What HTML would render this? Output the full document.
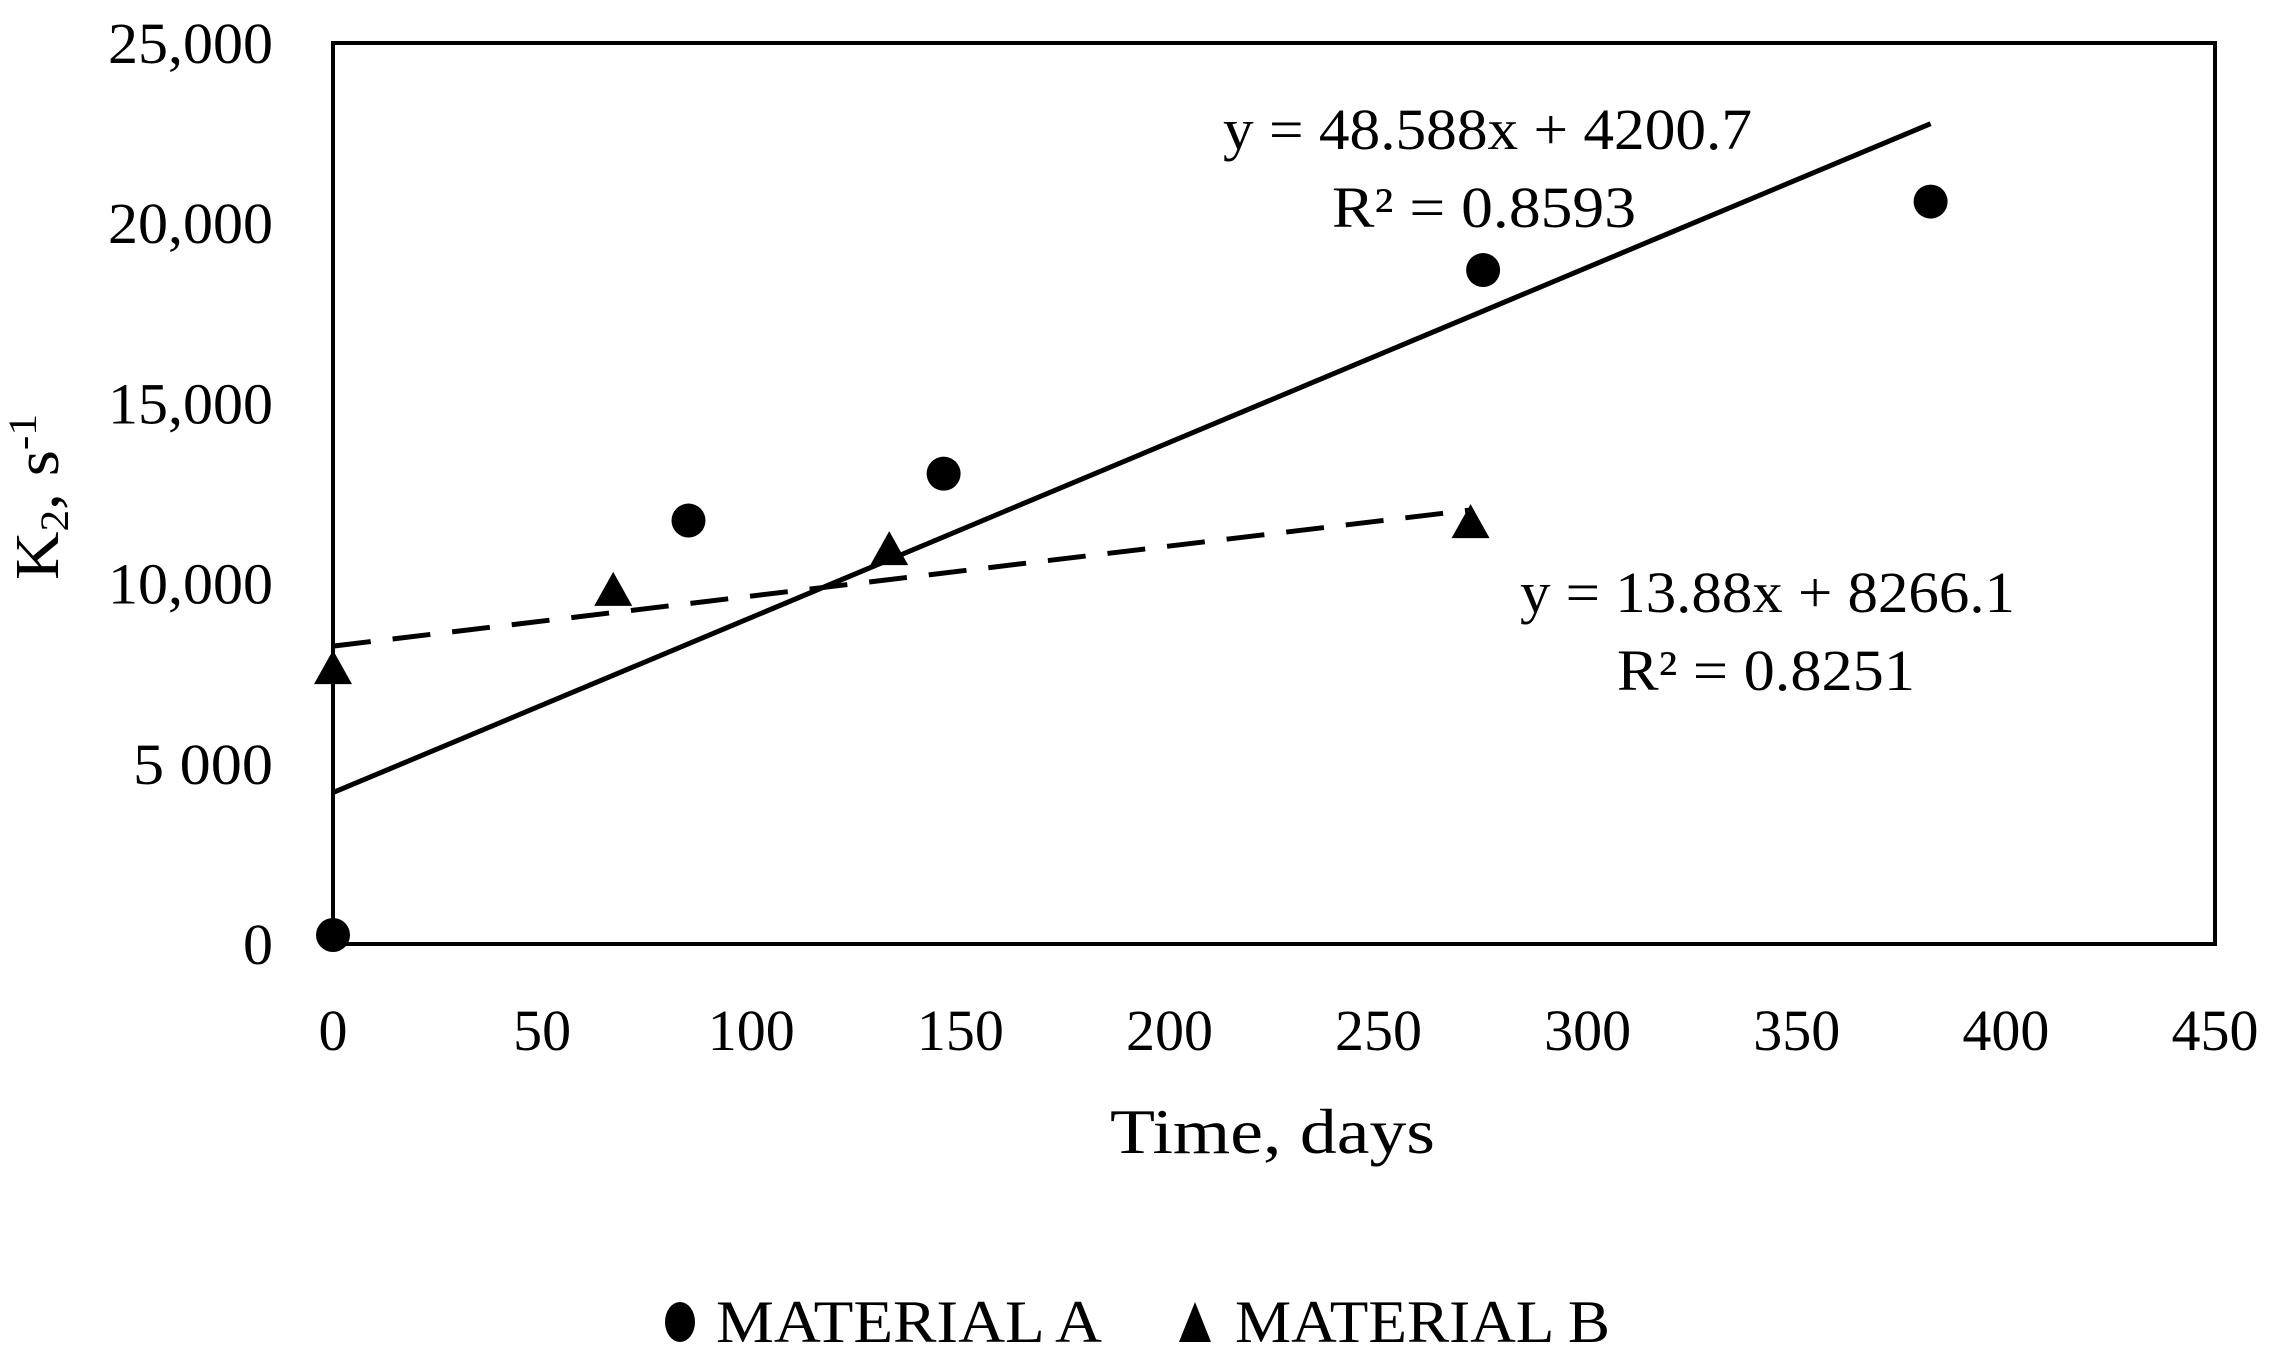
<!DOCTYPE html>
<html><head><meta charset="utf-8"><style>
html,body{margin:0;padding:0;background:#fff;}
svg{display:block;font-family:"Liberation Serif",serif;}
</style></head><body>
<svg id="chart" width="2270" height="1362">
<rect x="333" y="43" width="1882" height="901" fill="none" stroke="#000" stroke-width="4"/>
<g id="yticks"></g>
<g id="xticks"></g>
<g id="lines"></g>
<g id="marks"></g>
<text x="1110" y="1153" font-size="64" textLength="325" lengthAdjust="spacingAndGlyphs">Time, days</text>
<text transform="translate(58,580) rotate(-90)" font-size="62" textLength="166" lengthAdjust="spacingAndGlyphs">K<tspan font-size="40" dy="10">2</tspan><tspan dy="-10">, s</tspan><tspan font-size="40" dy="-22">-1</tspan></text>
<text x="1223" y="149" font-size="58" textLength="529" lengthAdjust="spacingAndGlyphs">y = 48.588x + 4200.7</text>
<text x="1332" y="227" font-size="58" textLength="304" lengthAdjust="spacingAndGlyphs">R² = 0.8593</text>
<text x="1520" y="612" font-size="58" textLength="495" lengthAdjust="spacingAndGlyphs">y = 13.88x + 8266.1</text>
<text x="1617" y="690" font-size="58" textLength="298" lengthAdjust="spacingAndGlyphs">R² = 0.8251</text>
<g>
<g>
<ellipse cx="680" cy="1322" rx="15" ry="20" fill="#000"/>
<text x="716" y="1342" font-size="60" textLength="386" lengthAdjust="spacingAndGlyphs">MATERIAL A</text>
</g>
<g>
<polygon points="1195,1302 1211,1342 1179,1342" fill="#000"/>
<text x="1235" y="1342" font-size="60" textLength="375" lengthAdjust="spacingAndGlyphs">MATERIAL B</text>
</g>
</g>
</svg>
<script>
const xTicks = [0,50,100,150,200,250,300,350,400,450];
const yTicks = [0,5000,10000,15000,20000,25000];
const yTickLabels = ["0","5 000","10,000","15,000","20,000","25,000"];
const aDays = [0,85,146,275,382];
const aValues = [250,11750,13050,18700,20600];
const bDays = [0,67,133,272];
const bValues = [7600,9770,10900,11650];
const aSlope = 48.588, aIntercept = 4200.7, aEnd = 382;
const bSlope = 13.88, bIntercept = 8266.1, bEnd = 272;

const NS = "http://www.w3.org/2000/svg";
const X = d => 333 + d * (1882/450);
const Y = v => 944 - v * (901/25000);
function mk(tag, attrs, parent){const e=document.createElementNS(NS,tag);for(const k in attrs)e.setAttribute(k,attrs[k]);parent.appendChild(e);return e;}
const yg=document.getElementById('yticks'), xg=document.getElementById('xticks');
yTicks.forEach((v,i)=>{
  const lab=yTickLabels[i];
  const w = lab.length===1?30:(lab.length===5?140:165);
  const t=mk('text',{x:273,y:Y(v)+20,'font-size':58,'text-anchor':'end',textLength:w,lengthAdjust:'spacingAndGlyphs'},yg);
  
  
  t.textContent=lab;
});
xTicks.forEach(d=>{
  const s=String(d);
  const w = s.length*29;
  const t=mk('text',{x:X(d),y:1050,'font-size':58,'text-anchor':'middle',textLength:w,lengthAdjust:'spacingAndGlyphs'},xg);
  
  
  t.textContent=s;
});
const lg=document.getElementById('lines');
const la=mk('line',{x1:X(0),y1:Y(aIntercept),x2:X(aEnd),y2:Y(aSlope*aEnd+aIntercept),stroke:'#000','stroke-width':5},lg);


const lb=mk('line',{x1:X(0),y1:Y(bIntercept),x2:X(bEnd),y2:Y(bSlope*bEnd+bIntercept),stroke:'#000','stroke-width':5,'stroke-dasharray':'38,22'},lg);


const mg=document.getElementById('marks');
aDays.forEach((d,i)=>{
  const c=mk('ellipse',{cx:X(d),cy:Y(aValues[i]),rx:17,ry:17,fill:'#000'},mg);
  
  
});
bDays.forEach((d,i)=>{
  const x=X(d), y=Y(bValues[i]);
  const p=mk('polygon',{points:`${x},${y-20} ${x+19},${y+14} ${x-19},${y+14}`,fill:'#000'},mg);
  
  
});
</script>
</body></html>
